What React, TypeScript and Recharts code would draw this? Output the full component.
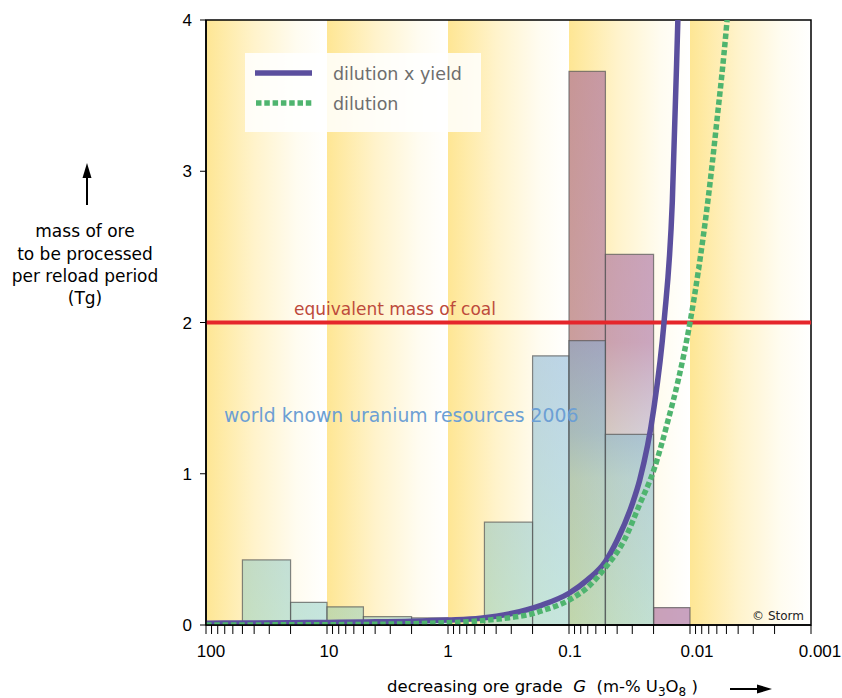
import React from 'react';
import { ComposedChart, XAxis, YAxis, Line, ReferenceArea, ReferenceLine, Legend } from 'recharts';

// ---------- data ----------
const decades = [100, 10, 1, 0.1, 0.01, 0.001];
const decadeLabels = ['100', '10', '1', '0.1', '0.01', '0.001'];
const xTicks = [
  100, 90, 80, 70, 60, 50, 40, 30, 20,
  10, 9, 8, 7, 6, 5, 4, 3, 2,
  1, 0.9, 0.8, 0.7, 0.6, 0.5, 0.4, 0.3, 0.2,
  0.1, 0.09, 0.08, 0.07, 0.06, 0.05, 0.04, 0.03, 0.02,
  0.01, 0.009, 0.008, 0.007, 0.006, 0.005, 0.004, 0.003, 0.002,
  0.001,
];
const yTicks = [0, 1, 2, 3, 4];

// world known uranium resources 2006 (histogram bins in ore grade, mass in Tg)
const resourceBinHigh = [50, 20, 10, 5, 2, 0.5, 0.2, 0.1, 0.05];
const resourceBinLow = [20, 10, 5, 2, 1, 0.2, 0.1, 0.05, 0.02];
const resourceMass = [0.43, 0.15, 0.12, 0.055, 0.047, 0.68, 1.78, 1.88, 1.26];

// additional (pink) resource bars
const extraBinHigh = [0.1, 0.05, 0.02];
const extraBinLow = [0.05, 0.02, 0.01];
const extraMass = [3.66, 2.45, 0.115];

// dilution x yield curve (grade, mass)
const dyGrade = [100, 50, 20, 10, 5, 2, 1, 0.54, 0.3, 0.17, 0.1, 0.07, 0.05, 0.04, 0.03, 0.026, 0.02, 0.0164, 0.014, 0.0126, 0.012];
const dyMass = [0.012, 0.013, 0.015, 0.017, 0.02, 0.025, 0.033, 0.045, 0.076, 0.13, 0.21, 0.3, 0.42, 0.56, 0.8, 0.96, 1.42, 2.0, 2.8, 4.0, 4.6];

// dilution curve (grade, mass)
const dGrade = [100, 10, 1, 0.5, 0.3, 0.2, 0.174, 0.1, 0.07, 0.05, 0.035, 0.026, 0.02, 0.0151, 0.0125, 0.01, 0.0085, 0.0071, 0.006, 0.005, 0.0045];
const dMass = [0.0002, 0.002, 0.015, 0.03, 0.05, 0.075, 0.09, 0.165, 0.25, 0.38, 0.56, 0.8, 1.02, 1.36, 1.62, 2.0, 2.35, 2.81, 3.33, 3.95, 4.4];

const coalMass = 2;

const dilutionYieldData = dyGrade.map((g, i) => ({ g, v: dyMass[i] }));
const dilutionData = dGrade.map((g, i) => ({ g, v: dMass[i] }));

// ---------- styles ----------
const TEXT_FONT = '"DejaVu Sans", sans-serif';
const NUM_FONT = '"Liberation Sans Narrow", "Liberation Sans", Arial, sans-serif';
const PURPLE = '#5b4f9e';
const GREEN = '#4fb46f';
const labelDx = [5, 2, 0, 1, 7, 9];

const XTick = (props: any) => {
  const { x, y, payload } = props;
  const idx = decades.indexOf(payload.value);
  if (idx < 0) return <g />;
  return (
    <text x={x + labelDx[idx]} y={y} dy={21} textAnchor="middle" fontSize={17} fontFamily={NUM_FONT} fill="#000">
      {decadeLabels[idx]}
    </text>
  );
};

const LegendContent = () => (
  <svg width={236} height={79} style={{ display: 'block' }}>
    <line x1={10} x2={67} y1={20} y2={20} stroke={PURPLE} strokeWidth={5.5} />
    <line x1={11} x2={68} y1={50} y2={50} stroke={GREEN} strokeWidth={5.5} strokeDasharray="5.5 2.8" />
    <text x={88} y={21} dominantBaseline="central" fontSize={17.5} fontFamily={TEXT_FONT} fill="#6e6e6e">dilution x yield</text>
    <text x={88} y={51} dominantBaseline="central" fontSize={17.5} fontFamily={TEXT_FONT} fill="#6e6e6e">dilution</text>
  </svg>
);

export default function App() {
  return (
    <div style={{ position: 'absolute', left: 0, top: 0, width: 842, height: 698, background: '#fff', fontFamily: TEXT_FONT }}>
      <svg width={0} height={0} style={{ position: 'absolute' }}>
        <defs>
          <linearGradient id="band" x1="0" y1="0" x2="1" y2="0">
            <stop offset="0" stopColor="#fee694" />
            <stop offset="0.4" stopColor="#fff3cb" />
            <stop offset="0.75" stopColor="#fffcf0" />
            <stop offset="1" stopColor="#ffffff" />
          </linearGradient>
          <linearGradient id="blueBar" gradientUnits="userSpaceOnUse" x1="0" y1="330" x2="0" y2="625">
            <stop offset="0" stopColor="rgb(120,168,210)" stopOpacity={0.5} />
            <stop offset="1" stopColor="rgb(140,205,190)" stopOpacity={0.5} />
          </linearGradient>
          <linearGradient id="pinkFade" gradientUnits="userSpaceOnUse" x1="0" y1="60" x2="0" y2="625">
            <stop offset="0" stopColor="rgb(165,100,150)" stopOpacity={0.62} />
            <stop offset="0.5" stopColor="rgb(165,105,160)" stopOpacity={0.58} />
            <stop offset="0.66" stopColor="rgb(150,140,195)" stopOpacity={0.4} />
            <stop offset="0.74" stopColor="rgb(150,150,200)" stopOpacity={0.15} />
            <stop offset="1" stopColor="rgb(150,150,200)" stopOpacity={0.08} />
          </linearGradient>
        </defs>
      </svg>
      <ComposedChart width={842} height={698} margin={{ top: 20, right: 31, bottom: 43, left: 166 }}>
        <XAxis
          dataKey="g"
          type="number"
          scale="log"
          domain={[0.001, 100]}
          reversed
          allowDataOverflow
          ticks={xTicks}
          interval={0}
          tickSize={9}
          tickMargin={2}
          height={30}
          tick={<XTick />}
          axisLine={{ stroke: '#000', strokeWidth: 1.5 }}
          tickLine={{ stroke: '#000', strokeWidth: 1 }}
        />
        <YAxis
          type="number"
          domain={[0, 4]}
          ticks={yTicks}
          allowDataOverflow
          width={40}
          tickSize={6}
          tickMargin={8}
          tick={{ fontSize: 17, fontFamily: NUM_FONT, fill: '#000' }}
          axisLine={{ stroke: '#000', strokeWidth: 1.5 }}
          tickLine={{ stroke: '#000', strokeWidth: 1 }}
        />
        {decades.slice(0, -1).map((d, i) => (
          <ReferenceArea key={'band' + i} x1={d} x2={decades[i + 1]} y1={0} y2={4} fill="url(#band)" fillOpacity={1} stroke="none" ifOverflow="visible" />
        ))}
        {extraMass.map((m, i) => (
          <ReferenceArea
            key={'ex' + i}
            x1={extraBinHigh[i]}
            x2={extraBinLow[i]}
            y1={0}
            y2={m}
            fill={m > 1 ? 'url(#pinkFade)' : 'rgb(165,100,150)'}
            fillOpacity={m > 1 ? 1 : 0.6}
            stroke="#555"
            strokeOpacity={0.7}
            strokeWidth={1.2}
          />
        ))}
        {resourceMass.map((m, i) => (
          <ReferenceArea key={'res' + i} x1={resourceBinHigh[i]} x2={resourceBinLow[i]} y1={0} y2={m} fill="url(#blueBar)" fillOpacity={1} stroke="#555" strokeOpacity={0.7} strokeWidth={1.2} />
        ))}
        <ReferenceLine y={coalMass} stroke="#e5262b" strokeWidth={4} />
        <Line data={dilutionYieldData} dataKey="v" type="monotone" stroke={PURPLE} strokeWidth={5.5} dot={false} activeDot={false} isAnimationActive={false} />
        <Line data={dilutionData} dataKey="v" type="monotone" stroke={GREEN} strokeWidth={5.5} strokeDasharray="5.5 2.8" dot={false} activeDot={false} isAnimationActive={false} />
        <ReferenceArea x1={100} x2={0.001} y1={0} y2={4} fill="none" stroke="#000" strokeWidth={1.5} ifOverflow="visible" />
        <Legend
          layout="vertical"
          align="center"
          verticalAlign="middle"
          wrapperStyle={{ left: 245, top: 53, width: 236, height: 79, background: 'rgba(255,255,255,0.85)' }}
          content={() => <LegendContent />}
        />
      </ComposedChart>

      <svg width={842} height={698} style={{ position: 'absolute', left: 0, top: 0, pointerEvents: 'none' }}>
        <line x1={87} x2={87} y1={205} y2={174} stroke="#000" strokeWidth={2} />
        <polygon points="82.5,178 91.5,178 87,163" fill="#000" />
        <g fontFamily={TEXT_FONT} fontSize={17} fill="#000" textAnchor="middle">
          <text x={85} y={231} dominantBaseline="central">mass of ore</text>
          <text x={85} y={254} dominantBaseline="central">to be processed</text>
          <text x={85} y={276} dominantBaseline="central">per reload period</text>
          <text x={85} y={298} dominantBaseline="central">(Tg)</text>
        </g>
        <text x={395} y={309} textAnchor="middle" dominantBaseline="central" fontFamily={TEXT_FONT} fontSize={17} fill="#bd4a3b">equivalent mass of coal</text>
        <text x={224} y={415} dominantBaseline="central" fontFamily={TEXT_FONT} fontSize={18.8} fill="#6c9fd4">world known uranium resources 2006</text>
        <text x={804} y={616} textAnchor="end" dominantBaseline="central" fontFamily={TEXT_FONT} fontSize={12} fill="#222">© Storm</text>
        <text x={387} y={692} fontFamily={TEXT_FONT} fontSize={16.5} fill="#000">
          decreasing ore grade{'\u00a0\u00a0'}
          <tspan fontStyle="italic">G</tspan>
          {'\u00a0\u00a0'}(m-% U
          <tspan fontSize={12} dy={4}>3</tspan>
          <tspan dy={-4}>O</tspan>
          <tspan fontSize={12} dy={4}>8</tspan>
          <tspan dy={-4}> )</tspan>
        </text>
        <line x1={730} x2={760} y1={689} y2={689} stroke="#000" strokeWidth={2} />
        <polygon points="757,684.5 757,693.5 772,689" fill="#000" />
      </svg>
    </div>
  );
}
